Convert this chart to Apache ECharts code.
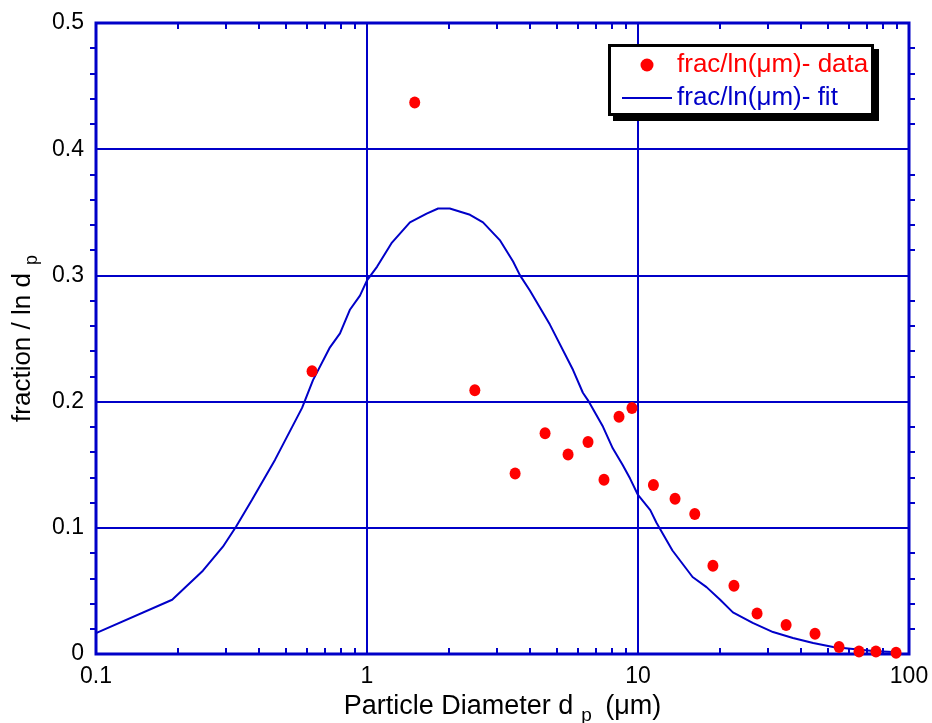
<!DOCTYPE html>
<html>
<head>
<meta charset="utf-8">
<script src="https://cdn.jsdelivr.net/npm/echarts@6/dist/echarts.min.js"></script>
<style>
  html, body { margin: 0; padding: 0; background: #fff; }
  #chart { width: 932px; height: 723px; }
</style>
</head>
<body>
<div id="chart"></div>
<script>
const dataX = [0.627, 1.50, 2.50, 3.52, 4.54, 5.52, 6.54, 7.49, 8.51, 9.5, 11.4, 13.7, 16.2, 18.9, 22.6, 27.5, 35.2, 45.0, 55.2, 65.4, 75.5, 89.6]
const dataY = [0.224, 0.437, 0.209, 0.143, 0.175, 0.158, 0.168, 0.138, 0.188, 0.195, 0.134, 0.123, 0.111, 0.070, 0.054, 0.032, 0.023, 0.016, 0.0055, 0.002, 0.002, 0.001]

// lognormal fit curve
const fitX = [0.1, 0.191, 0.248, 0.294, 0.329, 0.376, 0.458, 0.576, 0.632, 0.730, 0.795, 0.866, 0.942, 1.0, 1.09, 1.236, 1.44, 1.66, 1.83, 2.02, 2.40, 2.68, 3.09, 3.46, 3.67, 3.99, 4.73, 5.76, 6.26, 6.54, 7.43, 8.07, 8.77, 9.35, 10.0, 11.1, 11.7, 13.4, 15.9, 17.9, 20.1, 22.4, 26.5, 31.5, 37.3, 44.3, 52.5, 62.2, 73.7, 87.3]
const fitY = [0.0166, 0.043, 0.066, 0.085, 0.101, 0.122, 0.154, 0.195, 0.217, 0.243, 0.254, 0.273, 0.284, 0.296, 0.307, 0.326, 0.342, 0.349, 0.353, 0.353, 0.348, 0.342, 0.328, 0.311, 0.300, 0.288, 0.261, 0.225, 0.207, 0.201, 0.180, 0.163, 0.150, 0.139, 0.126, 0.114, 0.104, 0.082, 0.061, 0.053, 0.043, 0.033, 0.0246, 0.0174, 0.0127, 0.0087, 0.0055, 0.004, 0.0024, 0.0016]

const xMinorTicks = [0.2, 0.3, 0.4, 0.5, 0.6, 0.7, 0.8, 0.9, 2, 3, 4, 5, 6, 7, 8, 9, 20, 30, 40, 50, 60, 70, 80, 90]
const dataName = 'frac/ln(μm)- data'
const fitName = 'frac/ln(μm)- fit'

const BLUE = '#0000c8'
const RED = '#ff0000'
const FONT = '"Liberation Sans", Arial, sans-serif'

const chart = echarts.init(document.getElementById('chart'))

// extra log axes that only carry the 2..9 minor ticks
const tickAxis = (position) => ({
  type: 'log',
  logBase: 10,
  min: 0.1,
  max: 100,
  position,
  axisLine: { show: false },
  axisLabel: { show: false },
  splitLine: { show: false },
  axisTick: { show: true, inside: true, length: 6, customValues: xMinorTicks, lineStyle: { color: BLUE, width: 2 } },
})

chart.setOption({
  animation: false,
  backgroundColor: '#fff',
  textStyle: { fontFamily: FONT },
  grid: {
    left: 96, right: 23, top: 23, bottom: 69,
    outerBoundsMode: 'none',
    show: true, borderColor: BLUE, borderWidth: 3, backgroundColor: 'transparent',
  },
  // legend frame with a drop shadow
  graphic: [
    { type: 'rect', shape: { x: 613, y: 49, width: 266, height: 72 }, style: { fill: '#000' }, z: 10 },
    { type: 'rect', shape: { x: 609.5, y: 45.5, width: 263, height: 69 }, style: { fill: '#fff', stroke: '#000', lineWidth: 3 }, z: 10 },
  ],
  legend: {
    orient: 'vertical',
    left: 622,
    top: 52,
    padding: 0,
    itemGap: 7,
    itemWidth: 50,
    itemHeight: 13,
    z: 20,
    textStyle: { fontSize: 26, fontFamily: FONT },
    data: [
      { name: dataName, icon: 'circle', textStyle: { color: RED } },
      { name: fitName, icon: 'path://M0,0L50,0L50,2L0,2Z', itemStyle: { color: BLUE }, textStyle: { color: BLUE } },
    ],
  },
  xAxis: [
    {
      type: 'log',
      logBase: 10,
      min: 0.1,
      max: 100,
      position: 'bottom',
      axisLine: { show: false },
      axisTick: { show: false },
      axisLabel: { color: '#000', fontSize: 23, margin: 11, formatter: v => String(v) },
      splitLine: { show: true, lineStyle: { color: BLUE, width: 2 } },
      name: 'Particle Diameter d{sub|p} (μm)',
      nameLocation: 'middle',
      nameGap: 27,
      nameTextStyle: {
        color: '#000',
        fontSize: 27,
        rich: { sub: { fontSize: 19, padding: [18, 6, 0, 8], color: '#000' } },
      },
    },
    tickAxis('bottom'),
    tickAxis('top'),
  ],
  yAxis: [
    {
      type: 'value',
      min: 0,
      max: 0.5,
      interval: 0.1,
      position: 'left',
      axisLine: { show: false },
      axisTick: { show: false },
      minorTick: { show: true, splitNumber: 5, length: 6, lineStyle: { color: BLUE, width: 2 } },
      axisLabel: { color: '#000', fontSize: 23, margin: 12 },
      splitLine: { show: true, lineStyle: { color: BLUE, width: 2 } },
      name: 'fraction / ln d{sub|p}',
      nameLocation: 'middle',
      nameGap: 50,
      nameTextStyle: {
        color: '#000',
        fontSize: 26,
        rich: { sub: { fontSize: 18, padding: [18, 0, 0, 8], color: '#000' } },
      },
    },
    {
      type: 'value',
      min: 0,
      max: 0.5,
      interval: 0.1,
      position: 'right',
      axisLine: { show: false },
      axisLabel: { show: false },
      splitLine: { show: false },
      axisTick: { show: false },
      minorTick: { show: true, splitNumber: 5, length: 6, lineStyle: { color: BLUE, width: 2 } },
    },
  ],
  series: [
    {
      name: fitName,
      type: 'line',
      xAxisIndex: 0,
      yAxisIndex: 0,
      symbol: 'none',
      lineStyle: { color: BLUE, width: 2 },
      itemStyle: { color: BLUE },
      data: fitX.map((x, i) => [x, fitY[i]]),
      z: 3,
    },
    {
      name: dataName,
      type: 'scatter',
      xAxisIndex: 0,
      yAxisIndex: 0,
      symbol: 'circle',
      symbolSize: [11, 12],
      itemStyle: { color: RED, opacity: 1 },
      data: dataX.map((x, i) => [x, dataY[i]]),
      z: 4,
    },
  ],
})
</script>
</body>
</html>
